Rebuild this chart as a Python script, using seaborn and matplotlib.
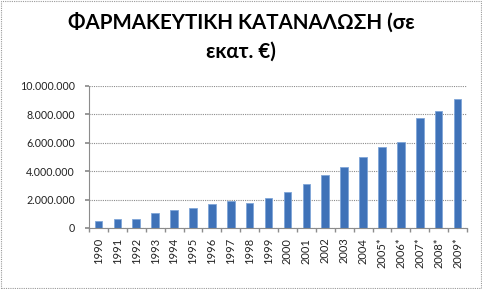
import matplotlib
matplotlib.use("Agg")
import matplotlib.pyplot as plt
import seaborn as sns
import pandas as pd
from matplotlib.ticker import FuncFormatter
from matplotlib.patches import Rectangle

years = ["1990", "1991", "1992", "1993", "1994", "1995", "1996", "1997", "1998", "1999",
         "2000", "2001", "2002", "2003", "2004", "2005*", "2006*", "2007*", "2008*", "2009*"]
values = [470000, 610000, 610000, 1060000, 1250000, 1440000, 1690000, 1880000, 1740000, 2090000,
          2560000, 3130000, 3760000, 4330000, 4990000, 5670000, 6090000, 7720000, 8260000, 9110000]
yticks = [0, 2000000, 4000000, 6000000, 8000000, 10000000]
title = "ΦΑΡΜΑΚΕΥΤΙΚΗ ΚΑΤΑΝΑΛΩΣΗ (σε\nεκατ. €)"

sns.set_theme(style="white")
plt.rcParams['font.family'] = ['Lato', 'DejaVu Sans']

df = pd.DataFrame({"year": years, "value": values})

fig = plt.figure(figsize=(4.82, 2.89), dpi=100)
ax = fig.add_axes([89/482, 1-228/289, (467-89)/482, (228-86)/289])

sns.barplot(data=df, x="year", y="value", ax=ax, color="#3f72b8",
            width=0.4, saturation=1, edgecolor="#7fa6d8", linewidth=0.6)

ax.set_ylim(0, 10000000)
ax.set_xlim(-0.5, len(years) - 0.5)
ax.set_yticks(yticks)
ax.yaxis.set_major_formatter(FuncFormatter(lambda v, p: f"{int(v):,}".replace(",", ".")))
ax.set_xlabel("")
ax.set_ylabel("")
ax.grid(axis="y", color="#8c8c8c", linestyle=(0, (1, 1)), linewidth=0.8)
ax.set_axisbelow(True)
for s in ["top", "right"]:
    ax.spines[s].set_visible(False)
for s in ["left", "bottom"]:
    ax.spines[s].set_color("#8c8c8c")
    ax.spines[s].set_linewidth(0.8)

ax.set_xticks(range(len(years)))
ax.set_xticklabels(years, rotation=90, fontsize=8, color="#222222")
ax.set_xticks([i - 0.5 for i in range(len(years) + 1)], minor=True)
ax.tick_params(axis="x", which="major", length=0, pad=7)
ax.tick_params(axis="x", which="minor", length=3, color="#8c8c8c", direction="out", bottom=True)
ax.tick_params(axis="y", length=3, color="#8c8c8c", direction="out", left=True, labelsize=7.7,
               labelcolor="#222222", pad=7)

fig.text(0.5, 1 - 37/289, title, ha="center", va="center", fontsize=14.8, fontweight="bold",
         color="black", linespacing=1.55)

fig.patches.append(Rectangle((0.002, 0.003), 0.996, 0.994, transform=fig.transFigure,
                             fill=False, edgecolor="#9a9a9a", linestyle=(0, (1, 1)), linewidth=0.8))

fig.savefig("out.png", dpi=100)
